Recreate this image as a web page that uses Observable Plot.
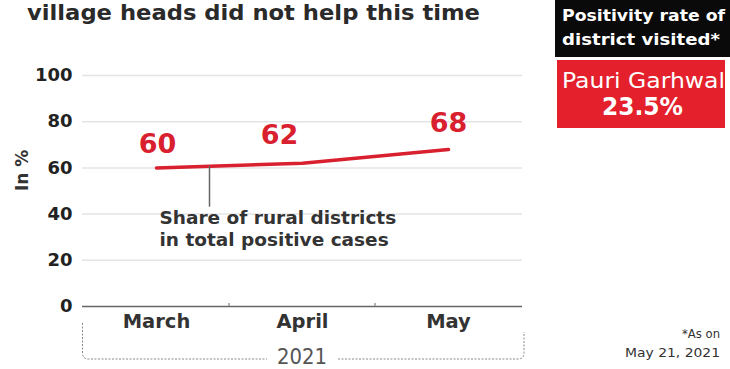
<!DOCTYPE html>
<html>
<head>
<meta charset="utf-8">
<script src="https://cdn.jsdelivr.net/npm/d3@7"></script>
<script src="https://cdn.jsdelivr.net/npm/@observablehq/plot@0.6"></script>
<style>
  html, body { margin: 0; padding: 0; background: #fff; }
  #wrap { position: relative; width: 730px; height: 369px; overflow: hidden; font-family: "DejaVu Sans", sans-serif; }
  #chart, #deco { position: absolute; left: 0; top: 0; }
</style>
</head>
<body>
<div id="wrap">
  <div id="chart"></div>
  <svg id="deco" width="730" height="369" xmlns="http://www.w3.org/2000/svg" font-family="DejaVu Sans, sans-serif">
    <text x="27" y="20" font-size="21" font-weight="bold" fill="#2a2a2a" textLength="453" lengthAdjust="spacingAndGlyphs">village heads did not help this time</text>
    <rect x="555" y="0" width="175" height="57" fill="#0a0a0a"></rect>
    <text x="643.5" y="21" text-anchor="middle" font-size="16" font-weight="bold" fill="#fff" textLength="163" lengthAdjust="spacingAndGlyphs">Positivity rate of</text>
    <text x="641" y="45" text-anchor="middle" font-size="16" font-weight="bold" fill="#fff" textLength="158" lengthAdjust="spacingAndGlyphs">district visited*</text>
    <rect x="557" y="60" width="168" height="68" fill="#e3202b"></rect>
    <text x="643.5" y="88" text-anchor="middle" font-size="21" fill="#fff" textLength="163" lengthAdjust="spacingAndGlyphs">Pauri Garhwal</text>
    <text x="642.5" y="115" text-anchor="middle" font-size="24" font-weight="bold" fill="#fff" textLength="81" lengthAdjust="spacingAndGlyphs">23.5%</text>
    <text x="720" y="338" text-anchor="end" font-size="13" fill="#333" textLength="38" lengthAdjust="spacingAndGlyphs">*As on</text>
    <text x="720" y="357" text-anchor="end" font-size="13" fill="#333" textLength="95" lengthAdjust="spacingAndGlyphs">May 21, 2021</text>
    <path d="M82.5,323 V353 Q82.5,359 88.5,359 H267" fill="none" stroke="#888" stroke-width="1" stroke-dasharray="2,1.5"></path>
    <path d="M338,359 H518 Q524,359 524,353 V332" fill="none" stroke="#888" stroke-width="1" stroke-dasharray="2,1.5"></path>
    <text x="302" y="364" text-anchor="middle" font-size="21" fill="#555" textLength="50" lengthAdjust="spacingAndGlyphs">2021</text>
  </svg>
</div>
<script>
const months = ["March", "April", "May"];
const shares = [60, 62, 68];
const yTicks = [0, 20, 40, 60, 80, 100];
const gridValues = [20, 40, 60, 80, 100];
const annotationText = "Share of rural districts\nin total positive cases";

const data = months.map((m, i) => ({month: m, value: shares[i]}));
const red = "#d8202f";
const font = "DejaVu Sans, sans-serif";

const chart = Plot.plot({
  width: 730,
  height: 369,
  marginLeft: 82,
  marginRight: 208,
  marginTop: 75,
  marginBottom: 63,
  style: {fontFamily: font, background: "transparent"},
  x: {type: "band", domain: months, padding: 0},
  y: {domain: [0, 100]},
  marks: [
    Plot.ruleY(gridValues, {stroke: "#e4e4e4", strokeWidth: 1.5}),
    Plot.ruleY([0], {stroke: "#666", strokeWidth: 1.5}),
    Plot.ruleX(months.slice(1), {x: d => d, dx: -73.5, y1: 0, y2: 1.3, stroke: "#999", strokeWidth: 1.5}),
    Plot.axisY({ticks: yTicks, tickSize: 0, tickPadding: 10, label: null, fontSize: 18, fontWeight: "bold", color: "#222"}),
    Plot.axisX({tickSize: 0, tickPadding: 8, label: null, fontSize: 19.5, fontWeight: "bold", color: "#333"}),
    Plot.text(["In %"], {frameAnchor: "left", rotate: -90, dx: -60, fontSize: 17, fontWeight: "bold", fill: "#333"}),
    Plot.line(data, {x: "month", y: "value", stroke: red, strokeWidth: 3.5}),
    Plot.ruleX([data[0]], {x: "month", y1: 60.6, y2: 43, dx: 53, stroke: "#666", strokeWidth: 1.5}),
    Plot.text([data[0]], {x: "month", y: 43, text: () => annotationText, textAnchor: "start", lineAnchor: "top", lineHeight: 1.2, dx: 3, dy: 1, fontSize: 18.5, fontWeight: "bold", fill: "#333"}),
    Plot.text([data[0]], {x: "month", y: "value", text: d => d.value, dx: 1, dy: -24, fontSize: 27, fontWeight: "bold", fill: red}),
    Plot.text([data[1]], {x: "month", y: "value", text: d => d.value, dx: -23, dy: -28, fontSize: 27, fontWeight: "bold", fill: red}),
    Plot.text([data[2]], {x: "month", y: "value", text: d => d.value, dx: 0, dy: -26, fontSize: 27, fontWeight: "bold", fill: red})
  ]
});
document.getElementById("chart").appendChild(chart);
</script>
</body>
</html>
